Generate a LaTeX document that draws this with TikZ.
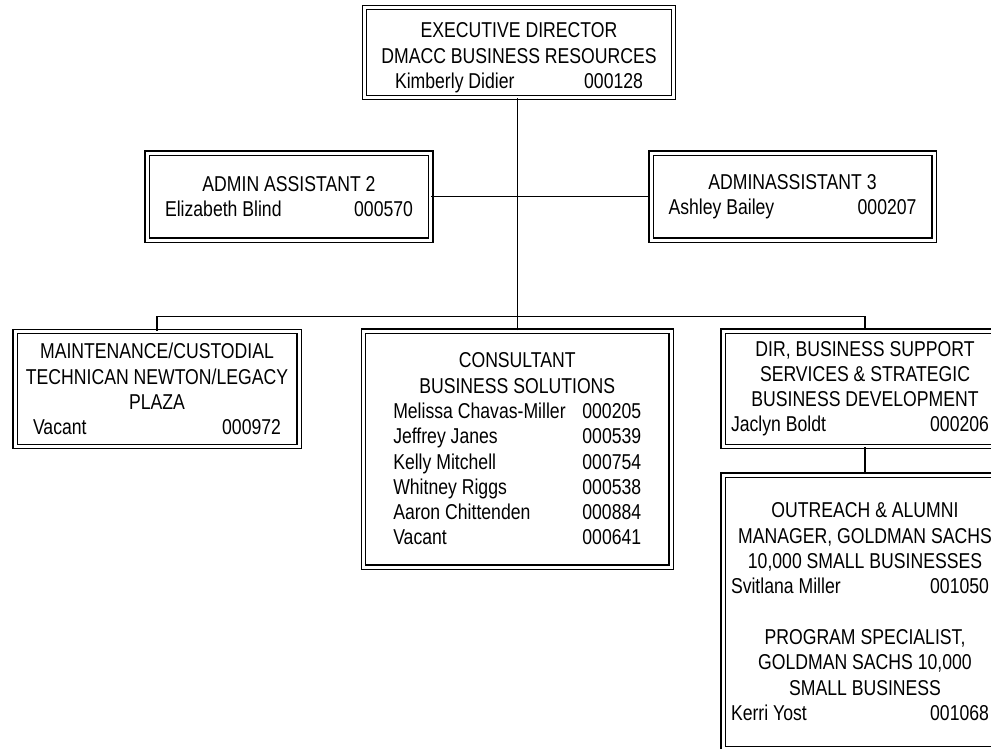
\documentclass[tikz,border=0pt]{standalone}
\usepackage{fontspec}
\setmainfont{Liberation Sans}[FakeStretch=0.82]
\usepackage{tikz}
\usetikzlibrary{positioning}
\newcommand{\boxfont}{\fontsize{21.5}{25.3}\selectfont}
\newcommand{\posrow}[3][248pt]{\makebox[#1]{#2\hfill #3}}

\begin{document}
\begin{tikzpicture}[x=1pt,y=-1pt,
    post/.style={draw=black, double=white, double distance=3pt, line width=1.4pt,
                 inner sep=0pt, align=center, font=\boxfont},
    link/.style={draw=black, line width=1.3pt}]
    \clip (0,0) rectangle (991,748);
    \fill [white] (0,0) rectangle (991,748);
    % top
    \node [post, minimum width=309pt, minimum height=90pt] (exec) at (519,52.5)
        {\rule{0pt}{25.5pt}EXECUTIVE DIRECTOR\\ DMACC BUSINESS RESOURCES\\ \posrow{Kimberly Didier}{000128}};
    % assistants
    \node [post, minimum width=283.5pt, minimum height=87pt] (adm2) at (289,196.75)
        {ADMIN ASSISTANT 2\\ \posrow{Elizabeth Blind}{000570}};
    \node [post, minimum width=283pt, minimum height=87pt] (adm3) at (792.5,196.75)
        {ADMINASSISTANT 3\\ \posrow{Ashley Bailey}{000207}};
    % second row
    \node [post, minimum width=284pt, minimum height=115pt] (maint) at (157,389)
        {MAINTENANCE/CUSTODIAL\\ TECHNICAN NEWTON/LEGACY\\ PLAZA\\ \posrow{Vacant}{000972}};
    \node [post, minimum width=307.5pt, minimum height=236pt] (cons) at (517.25,449)
        {CONSULTANT\\ BUSINESS SOLUTIONS\\
         \posrow{Melissa Chavas-Miller}{000205}\\
         \posrow{Jeffrey Janes}{000539}\\
         \posrow{Kelly Mitchell}{000754}\\
         \posrow{Whitney Riggs}{000538}\\
         \posrow{Aaron Chittenden}{000884}\\
         \posrow{Vacant}{000641}};
    \node [post, minimum width=284pt, minimum height=115.5pt] (dir) at (865,388.75)
        {DIR, BUSINESS SUPPORT\\ SERVICES \& STRATEGIC\\ BUSINESS DEVELOPMENT\\
         \posrow[258pt]{Jaclyn Boldt}{000206}\kern10pt\relax};
    \node [post, minimum width=284pt, minimum height=273.5pt] (outr) at (865,611.75)
        {OUTREACH \& ALUMNI\\ MANAGER, GOLDMAN SACHS\\ 10,000 SMALL BUSINESSES\\
         \posrow[258pt]{Svitlana Miller}{001050}\kern10pt\relax\\[25.3pt]
         PROGRAM SPECIALIST,\\ GOLDMAN SACHS 10,000\\ SMALL BUSINESS\\
         \posrow[258pt]{Kerri Yost}{001068}\kern10pt\relax};
    % lines
    \coordinate (bus) at (517.25,316.7);
    \draw [link] (cons.north) -- (cons.north |- exec.south);
    \draw [link] (adm2.east) -- (adm3.west);
    \draw [link] (maint.north) |- (bus) -| (dir.north);
    \draw [link] (dir.south) -- (outr.north);
\end{tikzpicture}
\end{document}
